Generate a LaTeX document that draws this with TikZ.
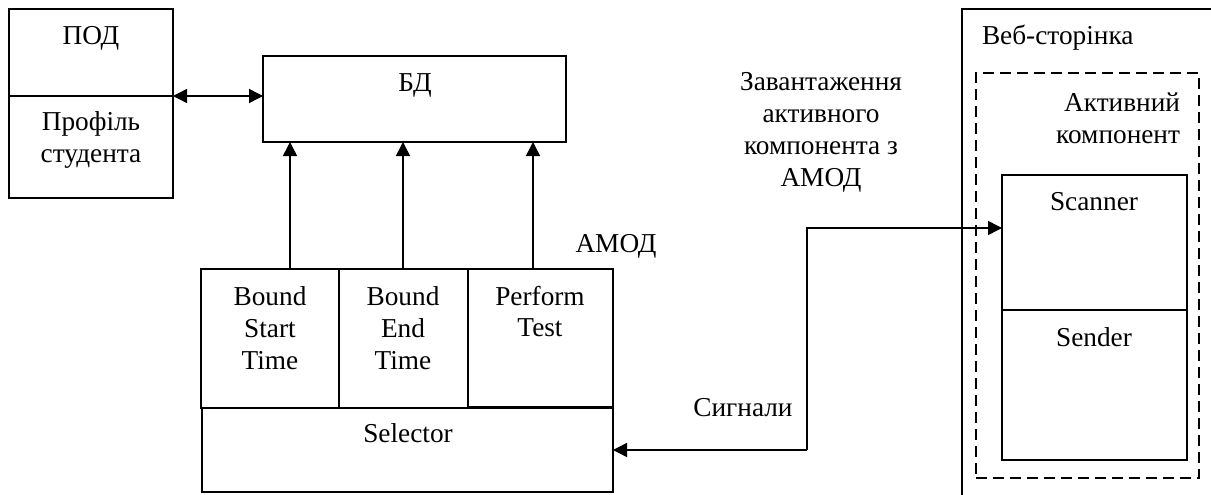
\documentclass[tikz,border=0pt]{standalone}
\usepackage{fontspec}
\setmainfont{Liberation Serif}
\usetikzlibrary{arrows.meta}
\tikzset{
  box/.style={draw=black,line width=1.5pt,fill=none,rectangle,inner sep=0pt,outer sep=0pt},
  lbl/.style={inner sep=0pt,outer sep=0pt,anchor=base,align=center,font=\fontsize{27.3}{32}\selectfont},
  lblleft/.style={lbl,anchor=base west,align=left},
  lblright/.style={lbl,anchor=base east,align=right},
  conn/.style={draw=black,line width=1.5pt,-{Triangle[length=14pt,width=14pt]}},
  biconn/.style={draw=black,line width=1.5pt,{Triangle[length=14pt,width=14pt]}-{Triangle[length=14pt,width=14pt]}},
  dashbox/.style={box,dash pattern=on 11pt off 6pt},
  sheet/.style={draw=black,line width=1.5pt}
}
\begin{document}
\begin{tikzpicture}[x=1pt,y=-1pt]
\useasboundingbox (0,0) rectangle (1211,495);
% student profile
\node[box,minimum width=164pt,minimum height=189pt] (pod) at (91,103.5) {};
\coordinate (podmid) at (173,96);
\coordinate (podmidl) at (9,96);
\draw[sheet] (podmidl) -- (podmid);
\node[lbl] (podt) at (91,45) {ПОД};
\node[lbl] (prof) at (91,131) {Профіль};
\node[lbl] (stud) at (91,162) {студента};
% database
\node[box,minimum width=303pt,minimum height=86pt] (bd) at (414.5,99) {};
\node[lbl] (bdt) at (415,92) {БД};
% AMOD
\node[box,minimum width=138pt,minimum height=139pt] (bst) at (270,338.5) {};
\node[box,minimum width=129pt,minimum height=139pt] (bet) at (403.5,338.5) {};
\node[box,minimum width=145pt,minimum height=138pt] (pt) at (540.5,338) {};
\node[box,minimum width=411pt,minimum height=84pt] (sel) at (407.5,450) {};
\node[lbl] (t1a) at (270,305) {Bound};
\node[lbl] (t1b) at (270,337) {Start};
\node[lbl] (t1c) at (270,369) {Time};
\node[lbl] (t2a) at (403,305) {Bound};
\node[lbl] (t2b) at (403,337) {End};
\node[lbl] (t2c) at (403,369) {Time};
\node[lbl] (t3a) at (540,305) {Perform};
\node[lbl] (t3b) at (540,336) {Test};
\node[lbl] (selt) at (408,442) {Selector};
\node[lbl] (amod) at (616,252) {АМОД};
% web page
\coordinate (wtr) at (1211,9);
\coordinate (wtl) at (962,9);
\coordinate (wbl) at (962,495);
\draw[sheet] (wtr) -- (wtl) -- (wbl);
\node[lblleft] (web) at (982,45) {Веб-сторінка};
\node[dashbox,minimum width=223pt,minimum height=405pt] (act) at (1087.5,275.5) {};
\node[lblright] (acta) at (1180,111) {Активний};
\node[lblright] (actb) at (1180,143) {компонент};
\node[box,minimum width=185pt,minimum height=285pt] (scan) at (1094.5,317.5) {};
\coordinate (scanl) at (1002,310);
\coordinate (scanr) at (1187,310);
\draw[sheet] (scanl) -- (scanr);
\node[lbl] (scant) at (1094,210) {Scanner};
\node[lbl] (sendt) at (1094,346) {Sender};
% free labels
\node[lbl] (z1) at (821,91) {Завантаження};
\node[lbl] (z2) at (821,122) {активного};
\node[lbl] (z3) at (821,154) {компонента з};
\node[lbl] (z4) at (821,186) {АМОД};
\node[lbl] (sig) at (743,416) {Сигнали};
% connectors
\draw[biconn] (pod.east |- podmid) -- (bd.west |- podmid);
\coordinate (a1) at (290,269);
\coordinate (a2) at (403,269);
\coordinate (a3) at (533,269);
\draw[conn] (a1) -- (a1 |- bd.south);
\draw[conn] (a2) -- (a2 |- bd.south);
\draw[conn] (a3) -- (a3 |- bd.south);
\coordinate (e1) at (807,228);
\coordinate (e2) at (1002,228);
\draw[conn] (e1 |- sel.east) -- (e1) -- (e2);
\draw[conn] (e1 |- sel.east) -- (sel.east);
\end{tikzpicture}
\end{document}
